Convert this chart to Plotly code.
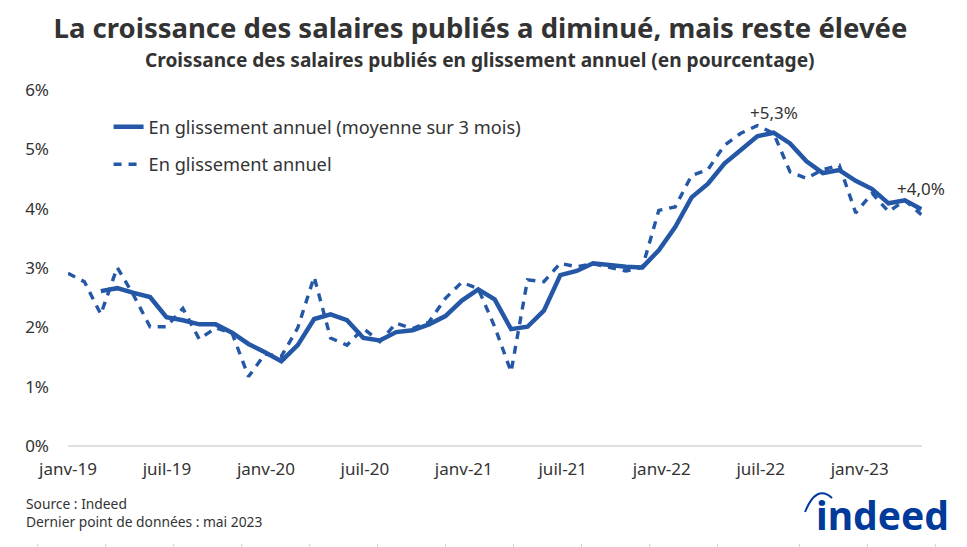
import plotly.graph_objects as go

month_index = list(range(53))
yoy_dashed = [2.91,2.77,2.22,3.01,2.54,2.01,2.01,2.32,1.80,1.99,1.90,1.17,1.55,1.51,1.99,2.85,1.82,1.70,
              1.98,1.76,2.07,1.98,2.09,2.49,2.76,2.65,2.01,1.25,2.80,2.77,3.08,3.02,3.07,3.01,2.95,3.01,
              3.97,4.03,4.56,4.66,5.07,5.27,5.40,5.27,4.62,4.51,4.66,4.73,3.93,4.26,3.95,4.14,3.90]
yoy_3m = [None,None,2.61,2.66,2.58,2.51,2.17,2.12,2.05,2.05,1.91,1.72,1.58,1.43,1.70,2.14,2.22,2.12,
          1.82,1.78,1.92,1.95,2.05,2.19,2.45,2.64,2.47,1.97,2.01,2.28,2.88,2.95,3.08,3.05,3.02,3.01,
          3.30,3.69,4.19,4.42,4.76,4.99,5.22,5.28,5.10,4.80,4.60,4.65,4.47,4.33,4.09,4.14,3.99]
x_labels = ["janv-19","juil-19","janv-20","juil-20","janv-21","juil-21","janv-22","juil-22","janv-23"]
x_label_pos = [0,6.03,12.06,18.09,24.12,30.15,36.18,42.21,48.24]
y_ticks = [0,1,2,3,4,5,6]
y_labels = ["0%","1%","2%","3%","4%","5%","6%"]

BLUE = "#2557A7"
TEXT = "#333333"
FONT = "Noto Sans"
LOGO = "#003A9B"

fig = go.Figure()
fig.add_trace(go.Scatter(x=month_index, y=yoy_3m, mode="lines", name="En glissement annuel (moyenne sur 3 mois)",
                         legendgroup="a", line=dict(color=BLUE, width=4.5), connectgaps=False))
fig.add_trace(go.Scatter(x=month_index, y=yoy_dashed, mode="lines", name="En glissement annuel",
                         legendgroup="b", line=dict(color=BLUE, width=3.4, dash="8px,7px")))

# the page adds an 8 px body margin, so the figure is 8 px smaller and offset
RIGHT = 922
fig.update_layout(
    width=959, height=539, autosize=False,
    margin=dict(l=59.5, r=959-(RIGHT-8), t=82, b=101),
    paper_bgcolor="white", plot_bgcolor="white",
    font=dict(family=FONT, color=TEXT, size=17),
    title=dict(text="<b>La croissance des salaires publiés a diminué, mais reste élevée</b>",
               x=472.5/959, xanchor="center", y=0.963, yanchor="middle",
               font=dict(size=27.5, color=TEXT, family=FONT)),
    legend=dict(x=0.0475, y=0.9485, xanchor="left", yanchor="top", bgcolor="rgba(0,0,0,0)",
                font=dict(size=18.2, color=TEXT), itemwidth=30, traceorder="grouped", tracegroupgap=11),
    xaxis=dict(range=[0,52.04], tickmode="array", tickvals=x_label_pos, ticktext=x_labels, showgrid=False,
               zeroline=False, showline=False, ticks="", ticklabelstandoff=11, tickfont=dict(size=17, color=TEXT)),
    yaxis=dict(range=[0,6], tickmode="array", tickvals=y_ticks, ticktext=y_labels, showgrid=False,
               zeroline=True, zerolinecolor="#E0E0E0", zerolinewidth=1.5, showline=False, ticks="",
               ticklabelstandoff=18, tickfont=dict(size=17, color=TEXT)),
)

def px(x): return (x-67.5)/(RIGHT-67.5)
def py(y): return (446-y)/356

def ann(text, x, y, size, bold=False, anchor="left", color=TEXT, family=FONT):
    fig.add_annotation(text=f"<b>{text}</b>" if bold else text, xref="paper", yref="paper",
                       x=px(x), y=py(y), xanchor=anchor, yanchor="middle", showarrow=False,
                       font=dict(size=size, color=color, family=family), borderpad=0)

ann("Croissance des salaires publiés en glissement annuel (en pourcentage)", 480, 60, 19.1, True, "center")
ann("Source : Indeed", 24.5, 503, 13.8)
ann("Dernier point de données : mai 2023", 24.5, 521, 13.8)
ann("indeed", 950, 514, 39, True, "right", LOGO)

fig.add_shape(type="path", xref="paper", yref="paper", line=dict(color=LOGO, width=2),
              path=f"M {px(805)} {py(512)} Q {px(816)} {py(484)} {px(832)} {py(498)}")

# small cropped marks along the bottom edge of the reference
edge_ticks = [37.3,105.3,173.3,241.3,309.3,377.3,445.3,513.3,581.3,649.5,717.5,799.3,867.3,935.3]
for t in edge_ticks:
    fig.add_shape(type="line", xref="paper", yref="paper", x0=px(t), x1=px(t), y0=py(544), y1=py(547),
                  line=dict(color="#D0D0D0", width=1))

fig.add_annotation(x=month_index[43], y=yoy_3m[43], text="+5,3%", showarrow=False, yshift=20, font=dict(size=17, color=TEXT))
fig.add_annotation(x=month_index[52], y=yoy_3m[52], text="+4,0%", showarrow=False, yshift=21, font=dict(size=17, color=TEXT))

fig.write_html("out.html")
